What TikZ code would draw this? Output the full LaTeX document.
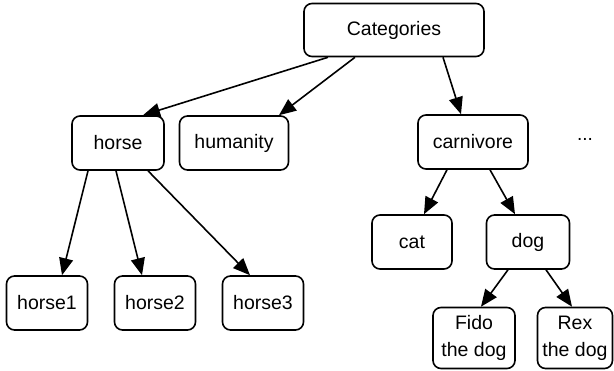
\documentclass[tikz,border=0pt]{standalone}
\usepackage{fontspec}
\setmainfont{Liberation Sans}
\usetikzlibrary{arrows.meta}
\tikzset{
  box/.style = {draw, rounded corners=8pt, line width=1.6pt, align=center,
                font=\fontsize{19.5}{27}\selectfont, inner sep=2pt,
                minimum height=54pt},
  arr/.style = {-{Triangle[length=17pt, width=14pt]}, line width=1.6pt},
}
\begin{document}
\begin{tikzpicture}[x=1pt, y=-1pt]
    \useasboundingbox (0,0) rectangle (614,371);
    % top level
    \node[box, minimum width=180pt, minimum height=53pt] (cat0) at (394,30) {Categories};
    % second row
    \node[box, minimum width=92pt] (horse) at (118,143) {horse};
    \node[box, minimum width=109pt] (hum) at (234,143) {humanity};
    \node[box, minimum width=110pt] (carn) at (473,142) {carnivore};
    \node[font=\fontsize{19}{22}\selectfont] (more) at (585,139) {...};
    % third row
    \node[box, minimum width=80pt] (cat) at (412,242) {cat};
    \node[box, minimum width=83pt] (dog) at (528,242) {dog};
    \node[box, minimum width=81pt] (h1) at (47,303) {horse1};
    \node[box, minimum width=81pt] (h2) at (155,303) {horse2};
    \node[box, minimum width=81pt] (h3) at (263,303) {horse3};
    % dogs
    \node[box, minimum width=82pt, minimum height=61pt] (fido) at (474,338) {Fido\\the dog};
    \node[box, minimum width=75pt, minimum height=61pt] (rex) at (575,338) {Rex\\the dog};
    \draw[arr] ([xshift=-66pt]cat0.south) -- ([xshift=25pt]horse.north);
    \draw[arr] ([xshift=-39pt]cat0.south) -- ([xshift=45pt]hum.north);
    \draw[arr] ([xshift=49pt]cat0.south) -- ([xshift=-12pt]carn.north);
    \draw[arr] ([xshift=-30pt]horse.south) -- ([xshift=15pt]h1.north);
    \draw[arr] ([xshift=-2pt]horse.south) -- ([xshift=-13pt]h2.north);
    \draw[arr] ([xshift=30pt]horse.south) -- ([xshift=-13pt]h3.north);
    \draw[arr] ([xshift=-26pt]carn.south) -- ([xshift=12pt]cat.north);
    \draw[arr] ([xshift=17pt]carn.south) -- ([xshift=-13pt]dog.north);
    \draw[arr] ([xshift=-20pt]dog.south) -- ([xshift=7pt]fido.north);
    \draw[arr] ([xshift=18pt]dog.south) -- ([xshift=-3pt]rex.north);
\end{tikzpicture}
\end{document}
